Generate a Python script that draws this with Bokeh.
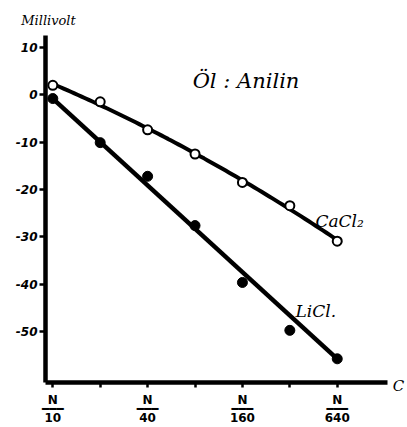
import numpy as np
from bokeh.plotting import figure
from bokeh.models import Range1d, FixedTicker, Label
from bokeh.embed import file_html
from bokeh.resources import INLINE

# Concentration steps N/10, N/20, ... N/640 (each step halves the concentration)
conc_steps = [0, 1, 2, 3, 4, 5, 6]
conc_denoms = ["10", "", "40", "", "160", "", "640"]

# Potential in millivolt, oil : aniline
cacl2_mv = [2.0, -1.5, -7.4, -12.5, -18.5, -23.4, -30.9]
licl_mv = [-0.8, -10.1, -17.2, -27.6, -39.6, -49.7, -55.7]

y_ticks = [10, 0, -10, -20, -30, -40, -50]
y_tick_labels = ["10", "0", "-10", "-20", "-30", "-40", "-50"]

BAR = "\u2501\u2501\u2501"  # fraction bar


def fraction(den):
    if not den:
        return ""
    return "N\n" + BAR + "\n" + den


X0, X1 = -0.154, 7.06
Y0, Y1 = -60.7, 12.5

p = figure(width=407, height=427, output_backend="svg", toolbar_location=None,
           x_range=Range1d(X0, X1), y_range=Range1d(Y0, Y1),
           min_border_left=45, min_border_right=20,
           min_border_top=35, min_border_bottom=43)
p.outline_line_color = None
p.grid.visible = False
p.background_fill_color = "white"
p.border_fill_color = "white"

ya = p.yaxis[0]
ya.ticker = FixedTicker(ticks=y_ticks)
ya.major_label_overrides = dict(zip(y_ticks, y_tick_labels))
ya.axis_line_width = 4.5
ya.axis_line_color = "black"
ya.major_tick_out = 6
ya.major_tick_in = 0
ya.major_tick_line_width = 2.5
ya.minor_tick_line_color = None
ya.major_label_standoff = 2
ya.major_label_text_font = "DejaVu Sans"
ya.major_label_text_font_size = "12px"
ya.major_label_text_font_style = "bold italic"
ya.major_label_text_color = "black"

xa = p.xaxis[0]
xa.ticker = FixedTicker(ticks=conc_steps)
xa.major_label_overrides = {s: fraction(d) for s, d in zip(conc_steps, conc_denoms)}
xa.axis_line_width = 4.5
xa.axis_line_color = "black"
xa.major_tick_out = 5
xa.major_tick_in = 0
xa.major_tick_line_width = 2.5
xa.minor_tick_line_color = None
xa.major_label_standoff = 5
xa.major_label_text_font = "DejaVu Sans"
xa.major_label_text_font_size = "12px"
xa.major_label_text_font_style = "bold"
xa.major_label_text_line_height = 0.65
xa.major_label_text_color = "black"

# smoothed CaCl2 curve and straight LiCl line
coef = np.polyfit(conc_steps, cacl2_mv, 2)
xs = np.linspace(conc_steps[0], conc_steps[-1], 80)
p.line(xs, np.polyval(coef, xs), line_width=4, line_color="black")
p.line([conc_steps[0], conc_steps[-1]], [licl_mv[0], licl_mv[-1]],
       line_width=4.5, line_color="black")

p.scatter(conc_steps, cacl2_mv, size=9, fill_color="white",
          line_color="black", line_width=2)
p.scatter(conc_steps, licl_mv, size=10, fill_color="black", line_color="black")

txt = dict(text_color="black", text_font="DejaVu Serif", text_font_style="italic")
p.add_layout(Label(x=X0, y=8, y_units="screen", x_offset=3, text="Millivolt",
                   text_align="center", text_baseline="bottom",
                   text_font_size="13px", **txt), "above")
p.add_layout(Label(x=11, x_units="screen", y=Y0, y_offset=-3, text="C",
                   text_align="center", text_baseline="middle",
                   text_font_size="15px", **txt), "right")
p.add_layout(Label(x=2.95, y=3.0, text="Öl : Anilin", text_baseline="alphabetic",
                   text_font_size="21px", **txt))
p.add_layout(Label(x=5.54, y=-26.7, text="CaCl\u2082", text_baseline="alphabetic",
                   text_font_size="17px", **txt))
p.add_layout(Label(x=5.12, y=-45.6, text="LiCl.", text_baseline="alphabetic",
                   text_font_size="17px", **txt))

open("out.html", "w").write(file_html(p, INLINE))
